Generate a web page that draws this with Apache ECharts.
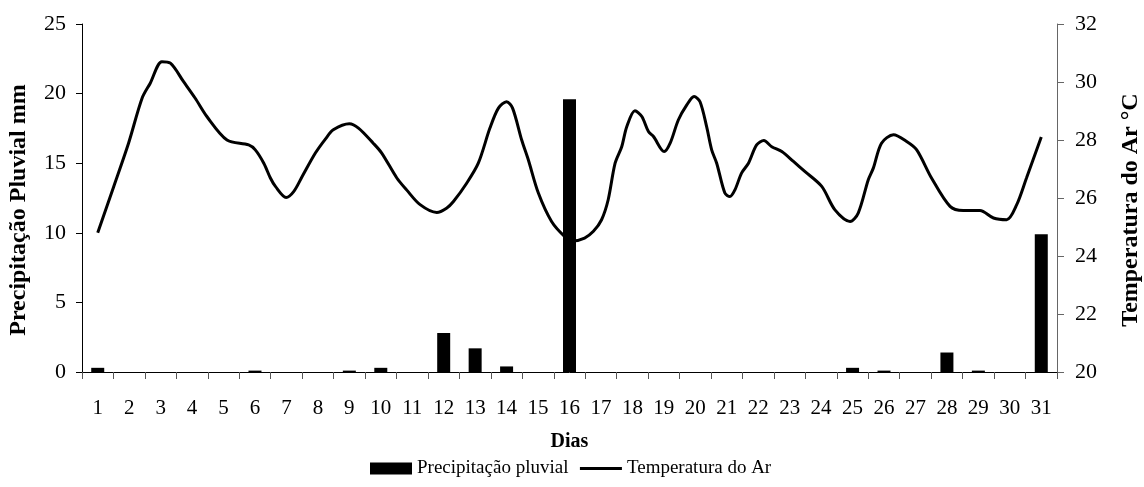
<!DOCTYPE html>
<html>
<head>
<meta charset="utf-8">
<script src="https://cdn.jsdelivr.net/npm/echarts@6/dist/echarts.min.js"></script>
<style>
html,body{margin:0;padding:0;background:#fff;}
#chart{width:1144px;height:487px;}
</style>
</head>
<body>
<div id="chart"></div>
<script>
// Category tick labels (days)
const dayLabels = ['1','2','3','4','5','6','7','8','9','10','11','12','13','14','15','16','17','18','19','20','21','22','23','24','25','26','27','28','29','30','31'];
// Daily rainfall (mm)
const precipitation = [0.3,0,0,0,0,0.1,0,0,0.1,0.3,0,2.8,1.7,0.4,0,19.6,0,0,0,0,0,0,0,0,0.3,0.1,0,1.4,0.1,0,9.9];
// Air temperature readings: position in days and value (°C)
const tempDays = [1.0,1.51,1.98,2.41,2.67,3.04,3.31,3.73,4.10,4.47,5.11,5.80,6.01,6.28,6.49,6.65,6.99,7.23,7.50,7.92,8.25,8.49,9.00,9.29,9.76,10.03,10.51,10.82,11.25,11.78,12.09,12.31,12.73,13.10,13.47,13.74,14.00,14.19,14.48,14.69,15.01,15.43,15.85,16.10,16.48,16.76,17.02,17.23,17.45,17.66,17.82,18.08,18.30,18.51,18.67,19.01,19.20,19.46,19.73,19.96,20.15,20.36,20.52,20.68,20.94,21.10,21.26,21.47,21.69,21.95,22.18,22.43,22.75,23.12,23.49,24.02,24.44,24.92,25.18,25.50,25.66,25.92,26.30,26.72,27.04,27.51,28.10,28.52,29.05,29.48,29.90,30.22,30.53,31.0];
const tempValues = [24.8,26.40,27.89,29.44,29.96,30.70,30.65,30.01,29.44,28.81,28.00,27.83,27.66,27.20,26.69,26.40,26.02,26.22,26.74,27.55,28.05,28.35,28.56,28.41,27.89,27.55,26.69,26.28,25.77,25.50,25.65,25.88,26.51,27.20,28.41,29.10,29.32,29.10,28.00,27.32,26.17,25.19,24.67,24.52,24.62,24.85,25.25,25.94,27.20,27.77,28.46,29.01,28.81,28.29,28.12,27.60,27.89,28.69,29.21,29.50,29.32,28.46,27.66,27.20,26.17,26.05,26.28,26.86,27.20,27.83,27.98,27.77,27.60,27.26,26.91,26.40,25.59,25.19,25.48,26.63,27.03,27.89,28.18,27.95,27.66,26.69,25.71,25.57,25.57,25.31,25.25,25.77,26.69,28.1];
const leftTicks = {min:0, max:25, interval:5};
const rightTicks = {min:20, max:32, interval:2};

const tempData = tempDays.map((d,i)=>[d,tempValues[i]]);
const FONT = '"Liberation Serif","Times New Roman",serif';

const chart = echarts.init(document.getElementById('chart'), null, {renderer:'canvas'});
chart.setOption({
  animation:false,
  backgroundColor:'#fff',
  textStyle:{fontFamily:FONT,color:'#000'},
  grid:{left:82,right:87,top:24,bottom:115,containLabel:false,outerBoundsMode:'none'},
  legend:{
    top:454,left:365,
    itemGap:10,itemWidth:42,itemHeight:12,
    textStyle:{fontFamily:FONT,fontSize:19,color:'#000'},
    data:[
      {name:'Precipitação pluvial',icon:'rect'},
      {name:'Temperatura do Ar',itemStyle:{opacity:0},lineStyle:{color:'#000',width:3,opacity:1}}
    ]
  },
  xAxis:[
    {
      type:'category',data:dayLabels,boundaryGap:true,
      name:'Dias',nameLocation:'middle',nameGap:60,
      nameTextStyle:{fontFamily:FONT,fontSize:20,fontWeight:'bold',color:'#000'},
      axisLine:{lineStyle:{color:'#000',width:1}},
      axisTick:{show:true,length:7,lineStyle:{color:'#555'}},
      axisLabel:{fontFamily:FONT,fontSize:21,color:'#000',margin:26,interval:0},
      splitLine:{show:false}
    },
    {
      type:'value',min:0.5,max:31.5,show:false,
      splitLine:{show:false}
    }
  ],
  yAxis:[
    {
      type:'value',min:leftTicks.min,max:leftTicks.max,interval:leftTicks.interval,
      name:'Precipitação Pluvial mm',nameLocation:'middle',nameRotate:90,nameGap:51,
      nameTextStyle:{fontFamily:FONT,fontSize:24,fontWeight:'bold',color:'#000',padding:[0,24,0,0]},
      axisLine:{show:true,lineStyle:{color:'#000',width:1}},
      axisTick:{show:true,length:6,lineStyle:{color:'#000'}},
      axisLabel:{fontFamily:FONT,fontSize:22,color:'#000',margin:16},
      splitLine:{show:false}
    },
    {
      type:'value',position:'right',min:rightTicks.min,max:rightTicks.max,interval:rightTicks.interval,
      name:'Temperatura do Ar °C',nameLocation:'middle',nameRotate:90,nameGap:62,
      nameTextStyle:{fontFamily:FONT,fontSize:24,fontWeight:'bold',color:'#000',padding:[0,24,0,0]},
      axisLine:{show:true,lineStyle:{color:'#666',width:1}},
      axisTick:{show:true,length:7,lineStyle:{color:'#666'}},
      axisLabel:{fontFamily:FONT,fontSize:22,color:'#000',margin:18},
      splitLine:{show:false}
    }
  ],
  series:[
    {
      name:'Precipitação pluvial',type:'bar',xAxisIndex:0,yAxisIndex:0,
      data:precipitation,barWidth:13,
      itemStyle:{color:'#000'}
    },
    {
      name:'Temperatura do Ar',type:'line',xAxisIndex:1,yAxisIndex:1,
      data:tempData,smooth:0.3,symbol:'none',
      lineStyle:{color:'#000',width:3},
      itemStyle:{color:'#000'},
      z:3
    }
  ]
});
</script>
</body>
</html>
